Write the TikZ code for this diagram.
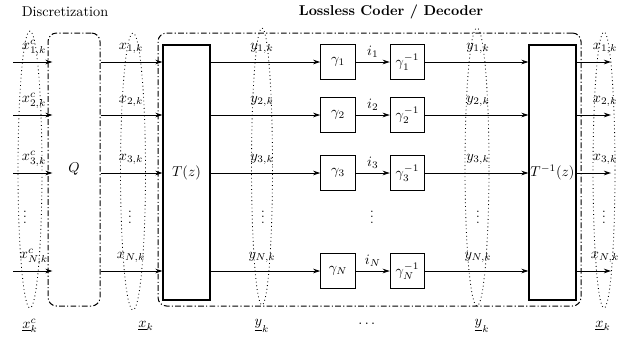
\documentclass[tikz,border=0pt]{standalone}
\usepackage{amsmath,amssymb}
\usetikzlibrary{arrows.meta, positioning, calc}
\tikzset{
  dgm/.style={x=0.7pt, y=-0.7pt, >={Stealth[length=5pt,width=3.2pt]}, line width=0.55pt},
  blk/.style={draw, line width=0.8pt, inner sep=0pt},
  gbx/.style={blk, minimum size=24pt},
  tbx/.style={blk, minimum width=32.9pt, minimum height=178.5pt},
  grp/.style={draw, line width=0.7pt, rounded corners=6pt, inner sep=0pt,
              dash pattern=on 4pt off 1.6pt on 0.8pt off 1.6pt},
  ell/.style={dotted, line width=0.6pt},
  lbl/.style={inner sep=1pt},
  dts/.style={inner sep=0pt, font=\small},
  ar/.style={->}
}

\begin{document}
\begin{tikzpicture}[dgm]
    \useasboundingbox (0,0) rectangle (636,337);

    % titles
    \node (tdisc) at (65,12) {Discretization};
    \node (tcode) at (391,12) {\textbf{Lossless Coder / Decoder}};

    % blocks
    \node[grp, minimum width=36.4pt, minimum height=191.1pt] (Q) at (74,169.5) {$Q$};
    \node[grp, minimum width=296.1pt, minimum height=191.1pt] (LC) at (369.5,169.5) {};
    \node[tbx] (T) at (186.5,172.5) {$T(z)$};
    \node[tbx] (Ti) at (552.5,172.5) {$T^{-1}(z)$};

    % vector groupings
    \draw[ell] (30,169.5) ellipse [x radius=12, y radius=138.5];
    \draw[ell] (133,171.5) ellipse [x radius=12.5, y radius=138.5];
    \draw[ell] (262,166.5) ellipse [x radius=10.5, y radius=138.5];
    \draw[ell] (477,167) ellipse [x radius=12, y radius=139];
    \draw[ell] (604,170) ellipse [x radius=11, y radius=138];

    % channels
    \foreach \r/\y in {1/62, 2/115, 3/173, N/271} {
      \coordinate (in\r) at (13,\y);
      \coordinate (out\r) at (611,\y);
      \node[gbx] (g\r) at (338,\y) {$\gamma_\r$};
      \node[gbx] (gi\r) at (407.5,\y) {$\gamma_\r^{-1}$};

      \draw[ar] (in\r) -- ([xshift=3.5pt]Q.west |- in\r);
      \draw[ar] (Q.east |- in\r) -- (T.west |- in\r);
      \draw[ar] (T.east |- in\r) -- (g\r.west);
      \draw[ar] (g\r) -- node[lbl, above=2pt] (i\r) {$i_\r$} (gi\r);
      \draw[ar] (gi\r.east) -- (Ti.west |- in\r);
      \draw[ar] (Ti.east |- in\r) -- (out\r);

      \node[lbl] (xc\r) at (34,\y-14) {$x^c_{\r,k}$};
      \node[lbl] (x\r) at (131,\y-14) {$x_{\r,k}$};
      \node[lbl] (y\r) at (262,\y-14) {$y_{\r,k}$};
      \node[lbl] (yy\r) at (478,\y-14) {$y_{\r,k}$};
      \node[lbl] (xx\r) at (605,\y-14) {$x_{\r,k}$};
    }

    % omitted rows
    \foreach \x [count=\n] in {25, 130, 263, 372, 478, 604}
      \node[dts] (vd\n) at (\x,213) {$\vdots$};

    % vector names
    \node (bxc) at (30,326) {$\underline{x}^c_k$};
    \node (bx) at (146,326) {$\underline{x}_k$};
    \node (by) at (262,326) {$\underline{y}_k$};
    \node (bdots) at (368,324) {$\dots$};
    \node (byy) at (482,326) {$\underline{y}_k$};
    \node (bxx) at (603,326) {$\underline{x}_k$};
  \end{tikzpicture}
\end{document}
